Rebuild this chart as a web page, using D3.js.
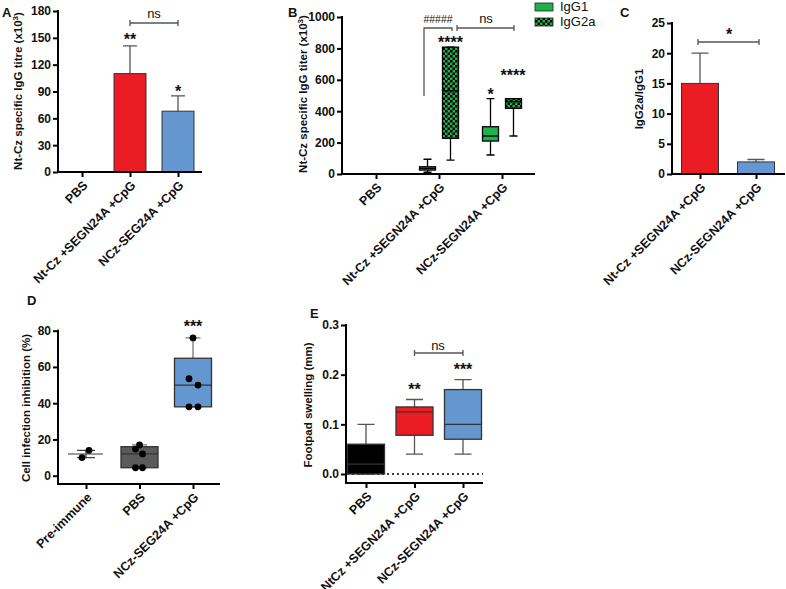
<!DOCTYPE html>
<html><head><meta charset="utf-8">
<script src="https://cdn.jsdelivr.net/npm/d3@7"></script>
<style>
body{margin:0;background:#fff}
svg{display:block;font-family:"Liberation Sans",Arial,sans-serif}
</style></head><body>
<svg id="c" width="786" height="589"></svg>
<script>
// ---------- data ----------
const catsA = ["PBS", "Nt-Cz +SEGN24A +CpG", "NCz-SEG24A +CpG"];
const meanA = [0, 110, 68];
const sdA = [0, 31, 17];
const ticksA = [0, 30, 60, 90, 120, 150, 180];

const catsB = ["PBS", "Nt-Cz +SEGN24A +CpG", "NCz-SEGN24A +CpG"];
const seriesB = ["IgG1", "IgG2a"];
const igg1Min = [0, 11, 121], igg1Q1 = [0, 25, 210], igg1Med = [0, 36, 242], igg1Q3 = [0, 46, 301], igg1Max = [0, 94, 480];
const igg2aMin = [0, 89, 242], igg2aQ1 = [0, 227, 418], igg2aMed = [0, 530, 462], igg2aQ3 = [0, 808, 480], igg2aMax = [0, 808, 480];
const ticksB = [0, 200, 400, 600, 800, 1000];

const catsC = ["Nt-Cz +SEGN24A +CpG", "NCz-SEGN24A +CpG"];
const meanC = [15, 2];
const sdC = [5, 0.4];
const ticksC = [0, 5, 10, 15, 20, 25];

const catsD = ["Pre-immune", "PBS", "NCz-SEG24A +CpG"];
const pointsD = [[10, 14], [17, 14.7, 12, 4.4, 4.4], [76, 53.5, 50, 38, 38]];
const minD = [10, 4.4, 38], q1D = [12, 4.4, 38], medD = [12, 12, 50], q3D = [12, 16, 64.8], maxD = [14, 17, 76];
const ticksD = [0, 20, 40, 60, 80];

const catsE = ["PBS", "NtCz +SEGN24A +CpG", "NCz-SEGN24A +CpG"];
const minE = [0, 0.04, 0.04], q1E = [0, 0.078, 0.07], medE = [0.02, 0.125, 0.1], q3E = [0.06, 0.135, 0.17], maxE = [0.1, 0.15, 0.19];
const ticksE = [0, 0.1, 0.2, 0.3];

// ---------- style ----------
const RED = "#ec1c24", BLUE = "#6497cf", GREEN = "#1fb14b", DGREY = "#5b5b5b", BLACK = "#000";
const svg = d3.select("#c");
const defs = svg.append("defs");
const pat = defs.append("pattern").attr("id", "chk").attr("patternUnits", "userSpaceOnUse")
  .attr("width", 5).attr("height", 5);
pat.append("rect").attr("width", 5).attr("height", 5).attr("fill", GREEN);
pat.append("rect").attr("width", 2.5).attr("height", 2.5).attr("fill", "#000");
pat.append("rect").attr("x", 2.5).attr("y", 2.5).attr("width", 2.5).attr("height", 2.5).attr("fill", "#000");

function yAxis(scale, x, ticks, fmt, top, bottom) {
  const g = svg.append("g").attr("transform", `translate(${x},0)`)
    .call(d3.axisLeft(scale).tickValues(ticks).tickFormat(fmt).tickSize(5).tickPadding(2));
  g.select(".domain").remove();
  g.selectAll(".tick line").attr("stroke", "#000").attr("stroke-width", 2);
  g.selectAll(".tick text").attr("font-size", 12).attr("font-weight", "bold").attr("fill", "#111")
    .attr("font-family", "Liberation Sans, Arial, sans-serif");
  svg.append("line").attr("x1", x).attr("x2", x).attr("y1", top - 1).attr("y2", bottom + 1)
    .attr("stroke", "#000").attr("stroke-width", 2);
}
function xAxis(scale, y, x0, x1) {
  svg.append("line").attr("x1", x0 - 1).attr("x2", x1).attr("y1", y).attr("y2", y)
    .attr("stroke", "#000").attr("stroke-width", 2);
  const g = svg.append("g").attr("transform", `translate(0,${y})`)
    .call(d3.axisBottom(scale).tickSize(5).tickPadding(2));
  g.select(".domain").remove();
  g.selectAll(".tick line").attr("stroke", "#000").attr("stroke-width", 2);
  g.selectAll(".tick text").attr("font-size", 12.5).attr("font-weight", "bold").attr("fill", "#111")
    .attr("font-family", "Liberation Sans, Arial, sans-serif")
    .attr("text-anchor", "end").attr("x", 0).attr("y", 0).attr("dy", 0)
    .attr("transform", "translate(6,14) rotate(-45)");
}
function yTitle(x, y, parts) {
  const t = svg.append("text").attr("transform", `translate(${x},${y}) rotate(-90)`)
    .attr("text-anchor", "middle").attr("font-weight", "bold").attr("font-size", 11.5).attr("fill", "#111");
  parts.forEach(p => {
    const s = t.append("tspan").text(p.t);
    if (p.sup) s.attr("baseline-shift", "super").attr("font-size", 8);
  });
}
function label(x, y, s, size = 13, weight = "bold", anchor = "start") {
  svg.append("text").attr("x", x).attr("y", y).attr("font-size", size).attr("font-weight", weight)
    .attr("text-anchor", anchor).attr("fill", "#111").text(s);
}
function bracket(x0, x1, y, col = "#555") {
  svg.append("path").attr("d", `M${x0},${y - 3}V${y + 3}M${x0},${y}H${x1}M${x1},${y - 3}V${y + 3}`)
    .attr("fill", "none").attr("stroke", col).attr("stroke-width", 1.3);
}
function box(cx, w, ys, mn, q1, md, q3, mx, fill, stroke, wcol, capW) {
  const g = svg.append("g");
  g.append("path").attr("d", `M${cx},${ys(q3)}V${ys(mx)}M${cx - capW / 2},${ys(mx)}H${cx + capW / 2}` +
    `M${cx},${ys(q1)}V${ys(mn)}M${cx - capW / 2},${ys(mn)}H${cx + capW / 2}`)
    .attr("stroke", wcol).attr("stroke-width", 1.3).attr("fill", "none");
  g.append("rect").attr("x", cx - w / 2).attr("width", w).attr("y", ys(q3)).attr("height", Math.max(0, ys(q1) - ys(q3)))
    .attr("fill", fill).attr("stroke", stroke).attr("stroke-width", 1.3);
  g.append("line").attr("x1", cx - w / 2).attr("x2", cx + w / 2).attr("y1", ys(md)).attr("y2", ys(md))
    .attr("stroke", stroke).attr("stroke-width", 1.3);
}

// ---------- Panel A ----------
{
  const y = d3.scaleLinear().domain([0, 180]).range([172, 11]);
  const x = d3.scalePoint().domain(catsA).range([82, 178]);
  const cols = ["#fff", RED, BLUE], bw = 32;
  catsA.forEach((c, i) => {
    if (meanA[i] <= 0) return;
    const cx = x(c);
    svg.append("path").attr("d", `M${cx},${y(meanA[i])}V${y(meanA[i] + sdA[i])}M${cx - 7},${y(meanA[i] + sdA[i])}H${cx + 7}`)
      .attr("stroke", "#555").attr("stroke-width", 1.3);
    svg.append("rect").attr("x", cx - bw / 2).attr("width", bw).attr("y", y(meanA[i])).attr("height", y(0) - y(meanA[i]))
      .attr("fill", cols[i]).attr("stroke", "#333").attr("stroke-width", 1);
  });
  yAxis(y, 58, ticksA, d3.format("d"), 11, 172);
  xAxis(x, 172, 58, 202);
  yTitle(22, 91, [{t: "Nt-Cz specific IgG titre (x10"}, {t: "3", sup: true}, {t: ")"}]);
  label(2, 17, "A");
  bracket(x(catsA[1]), x(catsA[2]), 23);
  label(154, 18, "ns", 13, "normal", "middle");
  label(x(catsA[1]), 45, "**", 16, "bold", "middle");
  label(x(catsA[2]), 97, "*", 16, "bold", "middle");
}

// ---------- Panel B ----------
{
  const y = d3.scaleLinear().domain([0, 1000]).range([174, 17]);
  const x = d3.scalePoint().domain(catsB).range([376, 502]);
  const off = {IgG1: -11.5, IgG2a: 11.5}, bw = 16;
  const st = {
    IgG1: [igg1Min, igg1Q1, igg1Med, igg1Q3, igg1Max],
    IgG2a: [igg2aMin, igg2aQ1, igg2aMed, igg2aQ3, igg2aMax]
  };
  catsB.forEach((c, i) => {
    seriesB.forEach(s => {
      const [mn, q1, md, q3, mx] = st[s].map(a => a[i]);
      if (mx <= 0) return;
      box(x(c) + off[s], bw, y, mn, q1, md, q3, mx, s === "IgG1" ? GREEN : "url(#chk)", "#000", "#000", 8);
    });
  });
  yAxis(y, 342, ticksB, d3.format("d"), 17, 174);
  xAxis(x, 174, 342, 535);
  yTitle(307, 94, [{t: "Nt-Cz specific IgG titer (x10"}, {t: "3", sup: true}, {t: ")"}]);
  label(288, 17, "B");
  // legend
  seriesB.forEach((s, i) => {
    svg.append("rect").attr("x", 535).attr("y", 3 + i * 15).attr("width", 18).attr("height", 8)
      .attr("fill", i === 0 ? GREEN : "url(#chk)").attr("stroke", "#222").attr("stroke-width", 0.8);
    label(560, 11 + i * 15, s, 13, "normal");
  });
  // annotations
  svg.append("path").attr("d", "M424,96V28H452V31").attr("fill", "none").attr("stroke", "#555").attr("stroke-width", 1.3);
  label(438, 23, "#####", 10.5, "normal", "middle");
  bracket(457, 514, 28);
  label(486, 23, "ns", 13, "normal", "middle");
  label(x(catsB[1]) + off.IgG2a, 48, "****", 16, "bold", "middle");
  label(x(catsB[2]) + off.IgG1, 100, "*", 16, "bold", "middle");
  label(513, 81, "****", 16, "bold", "middle");
}

// ---------- Panel C ----------
{
  const y = d3.scaleLinear().domain([0, 25]).range([174, 23]);
  const x = d3.scalePoint().domain(catsC).range([700, 756]);
  const cols = [RED, BLUE], bw = 37;
  catsC.forEach((c, i) => {
    const cx = x(c);
    svg.append("path").attr("d", `M${cx},${y(meanC[i])}V${y(meanC[i] + sdC[i])}M${cx - 8.5},${y(meanC[i] + sdC[i])}H${cx + 8.5}`)
      .attr("stroke", "#555").attr("stroke-width", 1.3);
    svg.append("rect").attr("x", cx - bw / 2).attr("width", bw).attr("y", y(meanC[i])).attr("height", y(0) - y(meanC[i]))
      .attr("fill", cols[i]).attr("stroke", "#333").attr("stroke-width", 1);
  });
  yAxis(y, 672, ticksC, d3.format("d"), 23, 174);
  xAxis(x, 174, 672, 785);
  yTitle(643, 99, [{t: "IgG2a/IgG1"}]);
  label(620, 17, "C");
  bracket(698, 759, 42);
  label(729, 40, "*", 16, "bold", "middle");
}

// ---------- Panel D ----------
{
  const y = d3.scaleLinear().domain([0, 80]).range([475.7, 330.7]);
  const x = d3.scalePoint().domain(catsD).range([86, 193]);
  const bw = 37;
  const jitter = [[-4, 3], [0, -4, 3, -4, 3], [0, -4, 5, -4, 5]];
  catsD.forEach((c, i) => {
    const cx = x(c);
    if (i === 0) {
      svg.append("line").attr("x1", cx - 18).attr("x2", cx + 17).attr("y1", y(medD[i])).attr("y2", y(medD[i]))
        .attr("stroke", "#999").attr("stroke-width", 2);
      svg.append("path").attr("d", `M${cx - 9},${y(maxD[i])}H${cx + 9}M${cx - 9},${y(minD[i])}H${cx + 9}M${cx},${y(minD[i])}V${y(maxD[i])}`)
        .attr("stroke", "#444").attr("stroke-width", 1.3).attr("fill", "none");
    } else {
      box(cx, bw, y, minD[i], q1D[i], medD[i], q3D[i], maxD[i], i === 1 ? DGREY : BLUE, "#333", "#777", 15);
    }
    pointsD[i].forEach((v, j) => {
      svg.append("circle").attr("cx", cx + jitter[i][j]).attr("cy", y(v)).attr("r", 3.4).attr("fill", "#000");
    });
  });
  yAxis(y, 58, ticksD, d3.format("d"), 330.7, 484);
  xAxis(x, 484, 58, 220);
  yTitle(30, 408, [{t: "Cell infection inhibition (%)"}]);
  label(27, 305, "D");
  label(x(catsD[2]), 332, "***", 16, "bold", "middle");
}

// ---------- Panel E ----------
{
  const y = d3.scaleLinear().domain([0, 0.3]).range([474, 325]);
  const x = d3.scalePoint().domain(catsE).range([366, 463]);
  const cols = [BLACK, RED, BLUE], bw = 37;
  svg.append("line").attr("x1", 347).attr("x2", 483).attr("y1", y(0)).attr("y2", y(0))
    .attr("stroke", "#000").attr("stroke-width", 1.5).attr("stroke-dasharray", "2,3");
  catsE.forEach((c, i) => {
    box(x(c), bw, y, minE[i], q1E[i], medE[i], q3E[i], maxE[i], cols[i], "#333", "#555", 17);
  });
  yAxis(y, 346, ticksE, d3.format(".1f"), 325, 483);
  xAxis(x, 483, 346, 483);
  yTitle(312, 405, [{t: "Footpad swelling (mm)"}]);
  label(310, 318, "E");
  bracket(x(catsE[1]), x(catsE[2]), 353);
  label(438, 350, "ns", 13, "normal", "middle");
  label(x(catsE[1]), 395, "**", 16, "bold", "middle");
  label(x(catsE[2]), 375, "***", 16, "bold", "middle");
}
</script>
</body></html>
